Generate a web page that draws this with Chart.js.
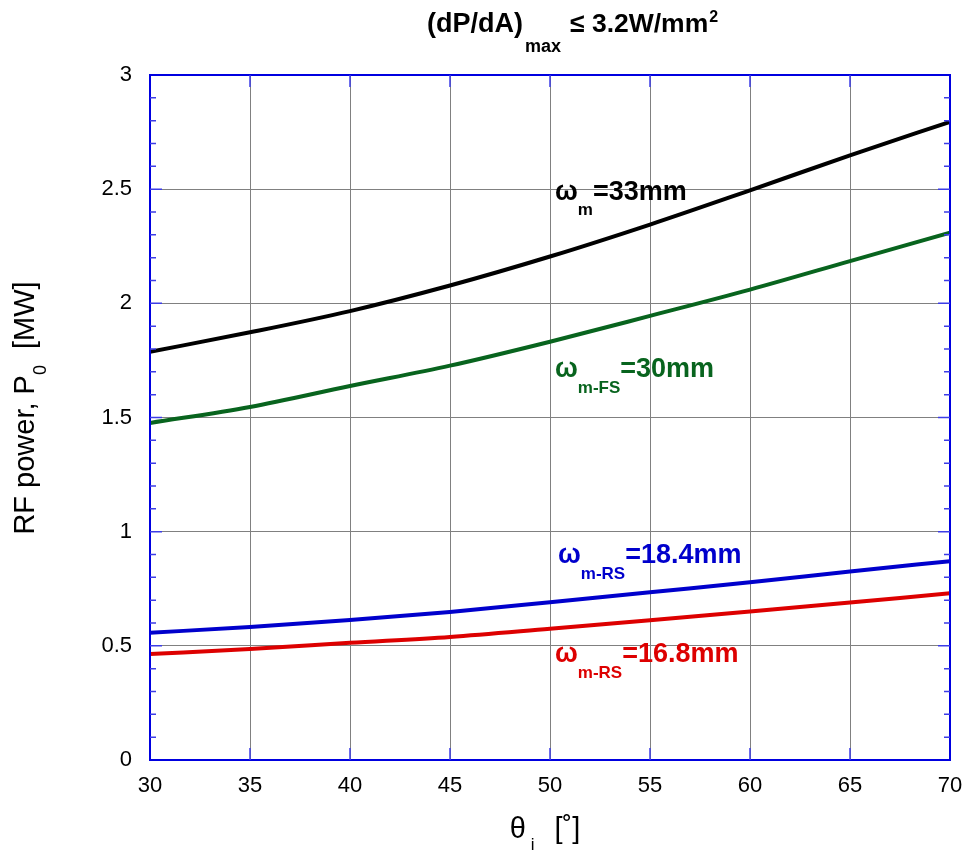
<!DOCTYPE html>
<html>
<head>
<meta charset="utf-8">
<script src="https://cdn.jsdelivr.net/npm/chart.js@4.4.0/dist/chart.umd.min.js"></script>
<style>
  body { margin: 0; background: #fff; }
  #wrap { width: 965px; height: 853px; position: relative; }
</style>
</head>
<body>
<div id="wrap"><canvas id="chart"></canvas></div>
<script>
// incidence angle (deg) and RF power (MW)
const thetaDeg = [30, 35, 40, 45, 50, 55, 60, 65, 70];
const pW33 = [1.788, 1.873, 1.966, 2.078, 2.205, 2.345, 2.495, 2.648, 2.795];
const pW30FS = [1.476, 1.546, 1.638, 1.727, 1.832, 1.945, 2.06, 2.185, 2.31];
const pW184RS = [0.557, 0.583, 0.613, 0.648, 0.691, 0.735, 0.778, 0.826, 0.871];
const pW168RS = [0.464, 0.486, 0.513, 0.539, 0.575, 0.612, 0.65, 0.69, 0.73];

const FONT = '"Liberation Sans", Arial, sans-serif';

function toPoints(vals) {
    return thetaDeg.map((t, i) => ({ x: t, y: vals[i] }));
}

// draws pieces of text one after another, each with own font and vertical shift
function drawRich(ctx, x, y, parts, color) {
    ctx.fillStyle = color;
    ctx.textBaseline = 'alphabetic';
    ctx.textAlign = 'left';
    let cx = x;
    parts.forEach(p => {
        ctx.font = p.font;
        ctx.fillText(p.t, cx, y + (p.dy || 0));
        cx += ctx.measureText(p.t).width + (p.gap || 0);
    });
}

function richWidth(ctx, parts) {
    let w = 0;
    parts.forEach(p => {
        ctx.font = p.font;
        w += ctx.measureText(p.t).width + (p.gap || 0);
    });
    return w;
}

const big = 'bold 27px ' + FONT;
const sub = 'bold 17px ' + FONT;

const textPlugin = {
    id: 'texts',
    afterDraw(chart) {
        const ctx = chart.ctx;
        const area = chart.chartArea;
        const xs = chart.scales.x, ys = chart.scales.y;
        ctx.save();

        // frame
        ctx.strokeStyle = '#0000e0';
        ctx.lineWidth = 2;
        ctx.strokeRect(area.left, area.top, area.right - area.left, area.bottom - area.top);

        // inward tick marks
        ctx.strokeStyle = '#3c3ce6';
        ctx.lineWidth = 1.5;
        ctx.beginPath();
        for (let k = 1; k < 30; k++) {
            const yy = ys.getPixelForValue(k / 10);
            const len = k % 5 === 0 ? 12 : 6;
            ctx.moveTo(area.left, yy); ctx.lineTo(area.left + len, yy);
            ctx.moveTo(area.right, yy); ctx.lineTo(area.right - len, yy);
        }
        for (let t = 35; t < 70; t += 5) {
            const xx = xs.getPixelForValue(t);
            ctx.moveTo(xx, area.bottom); ctx.lineTo(xx, area.bottom - 12);
            ctx.moveTo(xx, area.top); ctx.lineTo(xx, area.top + 12);
        }
        ctx.stroke();

        // title
        drawRich(ctx, 427, 32, [
            { t: '(dP/dA)', font: 'bold 27px ' + FONT, gap: 2 },
            { t: 'max', font: 'bold 18px ' + FONT, dy: 20, gap: 9 },
            { t: '\u2264 3.2W/mm', font: 'bold 26.5px ' + FONT, gap: 1 },
            { t: '2', font: 'bold 16px ' + FONT, dy: -10 }
        ], '#000');

        // curve labels
        drawRich(ctx, 555, 200, [
            { t: '\u03c9', font: big },
            { t: 'm', font: sub, dy: 15 },
            { t: '=33mm', font: big }
        ], '#000');
        drawRich(ctx, 555, 377, [
            { t: '\u03c9', font: big },
            { t: 'm-FS', font: sub, dy: 16 },
            { t: '=30mm', font: big }
        ], '#08641e');
        drawRich(ctx, 558, 563, [
            { t: '\u03c9', font: big },
            { t: 'm-RS', font: sub, dy: 16 },
            { t: '=18.4mm', font: big }
        ], '#0000cc');
        drawRich(ctx, 555, 662, [
            { t: '\u03c9', font: big },
            { t: 'm-RS', font: sub, dy: 16 },
            { t: '=16.8mm', font: big }
        ], '#dd0000');

        // x axis title
        const xParts = [
            { t: '\u03b8', font: '29px ' + FONT, gap: 5 },
            { t: 'i', font: '17px ' + FONT, dy: 12, gap: 20 },
            { t: '[\u02da]', font: '29px ' + FONT }
        ];
        const xw = richWidth(ctx, xParts);
        drawRich(ctx, 545 - xw / 2, 838, xParts, '#000');

        // y axis title (rotated)
        const yParts = [
            { t: 'RF power, P', font: '29px ' + FONT },
            { t: '0', font: '18px ' + FONT, dy: 12, gap: 16 },
            { t: '[MW]', font: '29px ' + FONT }
        ];
        const yw = richWidth(ctx, yParts);
        ctx.translate(34, 408);
        ctx.rotate(-Math.PI / 2);
        drawRich(ctx, -yw / 2, 0, yParts, '#000');

        ctx.restore();
    }
};

function lineSet(vals, color) {
    return {
        data: toPoints(vals),
        borderColor: color,
        borderWidth: 4,
        pointRadius: 0,
        fill: false,
        cubicInterpolationMode: 'monotone'
    };
}

new Chart(document.getElementById('chart').getContext('2d'), {
    type: 'line',
    data: {
        datasets: [
            lineSet(pW33, '#000000'),
            lineSet(pW30FS, '#08641e'),
            lineSet(pW184RS, '#0000cc'),
            lineSet(pW168RS, '#dd0000')
        ]
    },
    options: {
        responsive: true,
        maintainAspectRatio: false,
        animation: false,
        layout: { padding: { top: 75, right: 15, left: 0, bottom: 0 } },
        plugins: { legend: { display: false }, tooltip: { enabled: false }, title: { display: false } },
        scales: {
            x: {
                type: 'linear',
                min: 30, max: 70,
                ticks: { stepSize: 5, color: '#000', font: { size: 22, family: FONT }, padding: 13 },
                grid: { color: '#808080', lineWidth: 1, drawTicks: false },
                border: { display: false },
                afterFit(s) { s.height = 93; s.paddingLeft = 0; s.paddingRight = 0; }
            },
            y: {
                min: 0, max: 3,
                ticks: {
                    stepSize: 0.5, color: '#000', font: { size: 22, family: FONT }, padding: 18,
                    callback: v => String(v)
                },
                grid: { color: '#808080', lineWidth: 1, drawTicks: false },
                border: { display: false },
                afterFit(s) { s.width = 150; s.paddingTop = 0; s.paddingBottom = 0; }
            }
        }
    },
    plugins: [textPlugin]
});
</script>
</body>
</html>
